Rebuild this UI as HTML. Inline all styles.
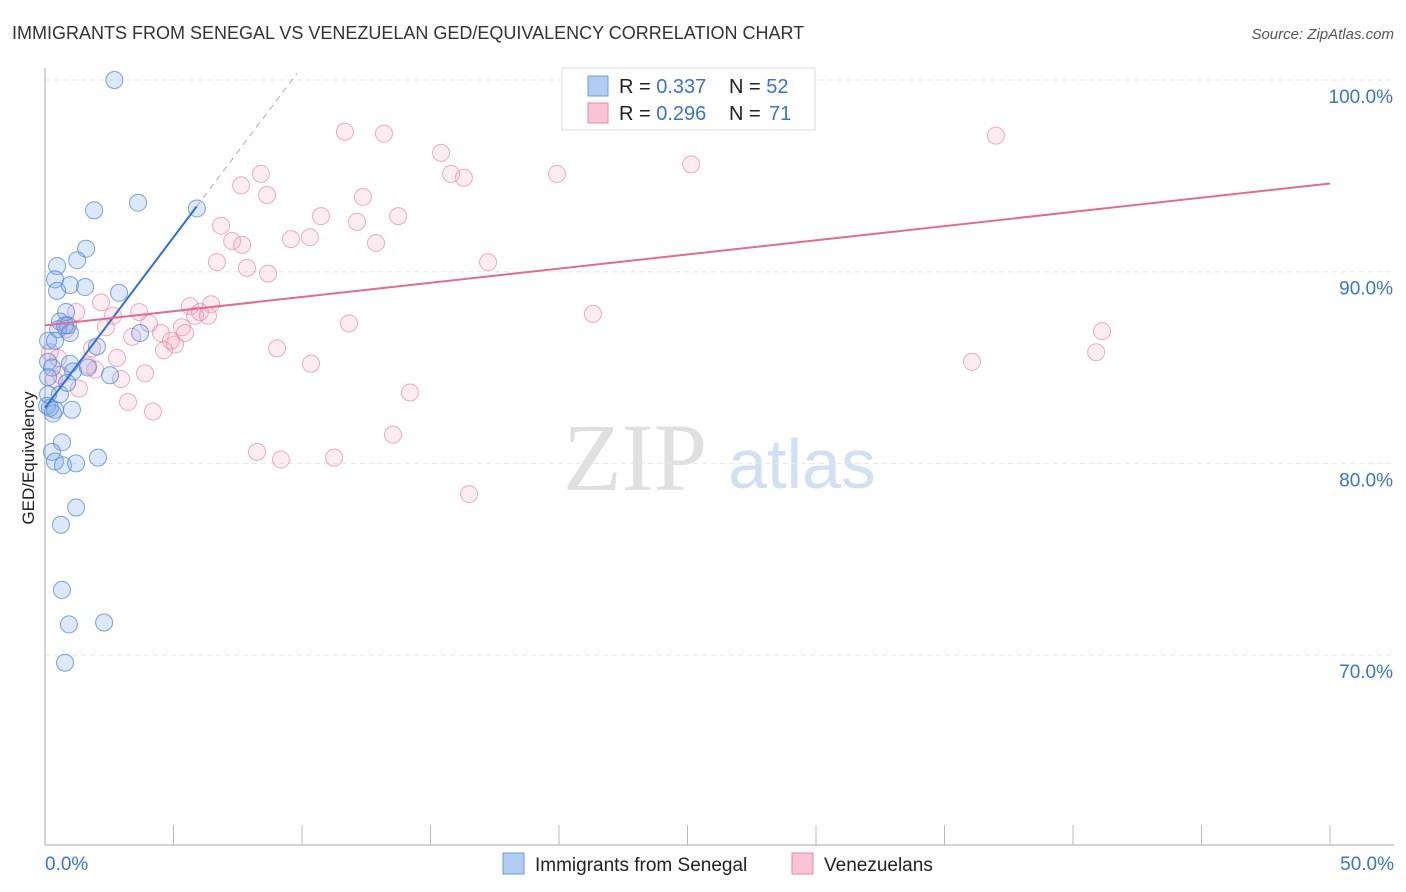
<!DOCTYPE html>
<html><head><meta charset="utf-8"><style>
body{margin:0;background:#fff;font-family:"Liberation Sans",sans-serif;}
svg{display:block}
</style></head><body>
<svg id="chart" width="1406" height="892">
<text x="12" y="39" font-size="18" fill="#333">IMMIGRANTS FROM SENEGAL VS VENEZUELAN GED/EQUIVALENCY CORRELATION CHART</text>
<text x="1394" y="39" font-size="15" fill="#555" font-style="italic" text-anchor="end">Source: ZipAtlas.com</text>
<text x="34" y="458" font-size="17" fill="#222" text-anchor="middle" transform="rotate(-90 34 458)">GED/Equivalency</text>
<g><text x="635" y="490" font-size="96" font-family="Liberation Serif,serif" fill="#e0e0e0" text-anchor="middle">ZIP</text><text x="802" y="488" font-size="70" fill="#d3e0f3" text-anchor="middle">atlas</text></g>
<g id="grid"></g><g id="axes"></g><g id="marks"></g>
<g>
<rect x="562" y="68" width="253" height="62" fill="#fff" stroke="#ddd"/>
<rect x="588" y="76" width="20" height="20" fill="#b3cdf2" stroke="#6a9be0"/>
<rect x="588" y="103" width="20" height="20" fill="#f9c4d4" stroke="#e88aa8"/>
<text x="619" y="93" font-size="20" fill="#222">R = <tspan fill="#3a74d0">0.337</tspan></text>
<text x="729" y="93" font-size="20" fill="#222">N = <tspan fill="#3a74d0">52</tspan></text>
<text x="619" y="120" font-size="20" fill="#222">R = <tspan fill="#3a74d0">0.296</tspan></text>
<text x="729" y="120" font-size="20" fill="#222">N = <tspan fill="#3a74d0" x="769">71</tspan></text>
</g>
<g>
<rect x="503" y="853" width="21" height="21" fill="#b3cdf2" stroke="#6a9be0"/>
<text x="535" y="871" font-size="19" fill="#222">Immigrants from Senegal</text>
<rect x="792" y="853" width="21" height="21" fill="#f9c4d4" stroke="#e88aa8"/>
<text x="824" y="871" font-size="19" fill="#222">Venezuelans</text>
</g>
</svg>
<script>
const blueX=[2.7,3.62,1.91,5.91,1.6,0.47,1.25,0.39,0.47,0.97,1.56,2.88,0.82,0.58,0.89,0.51,0.97,3.7,2.02,0.12,0.97,2.53,1.09,0.27,1.67,0.86,0.12,0.58,0.08,0.39,0.31,1.05,0.66,0.27,0.39,0.7,1.21,2.06,1.21,0.62,0.66,0.93,2.3,0.78,0.19,0.12,0.12,0.78,0.39];
const blueY=[100.0,93.6,93.2,93.3,91.2,90.3,90.6,89.6,89.0,89.3,89.2,88.9,87.9,87.4,87.2,87.0,86.8,86.8,86.1,86.4,85.2,84.6,84.8,85.0,85.0,84.2,84.5,83.6,83.0,82.8,82.6,82.8,81.1,80.6,80.1,79.9,80.0,80.3,77.7,76.8,73.4,71.6,71.7,69.6,82.9,83.6,85.3,87.2,86.4];
const pinkX=[11.67,13.19,15.41,15.8,16.3,19.92,25.14,37.0,8.4,7.63,8.64,12.37,10.74,13.74,12.14,6.85,7.28,7.67,9.57,10.31,12.88,6.69,7.86,8.68,17.24,2.18,5.64,6.46,6.03,5.84,6.34,3.66,2.65,1.21,4.05,2.37,5.33,5.45,11.83,4.51,3.39,4.9,5.06,4.63,1.83,2.8,0.51,9.03,10.35,21.32,41.13,40.9,36.07,3.89,1.95,2.96,0.62,1.32,14.2,3.23,4.2,13.54,8.25,9.18,11.25,16.5,0.19,0.35,0.82,1.67];
const pinkY=[97.3,97.2,96.2,95.1,94.9,95.1,95.6,97.1,95.1,94.5,94.0,93.9,92.9,92.9,92.6,92.4,91.6,91.4,91.7,91.8,91.5,90.5,90.2,89.9,90.5,88.4,88.2,88.3,87.9,87.7,87.7,87.9,87.7,87.9,87.3,87.1,87.1,86.8,87.3,86.8,86.6,86.4,86.2,85.9,86.0,85.5,85.5,86.0,85.2,87.8,86.9,85.8,85.3,84.7,84.9,84.4,84.6,83.9,83.7,83.2,82.7,81.5,80.6,80.2,80.3,78.4,85.8,84.4,87.0,85.1];
const yTicks=[100,90,80,70];
const blueTrend=[[0,82.9],[5.9,93.4]];
const pinkTrend=[[0,87.2],[50,94.6]];
const NS="http://www.w3.org/2000/svg";
const sx=v=>45+v*25.7, sy=v=>80+(100-v)*19.17;
function mk(t,a,p){const e=document.createElementNS(NS,t);for(const k in a)e.setAttribute(k,a[k]);p.appendChild(e);return e;}
const grid=document.getElementById('grid'),axes=document.getElementById('axes'),marks=document.getElementById('marks');
yTicks.forEach(t=>{const l=mk('line',{x1:45,x2:1394,y1:sy(t),y2:sy(t),stroke:'#e6e6e6','stroke-dasharray':'5,4'},grid);


const tx=mk('text',{x:1393,y:sy(t)+23,'font-size':19,fill:'#3a74d0','text-anchor':'end'},axes);tx.textContent=t.toFixed(1)+'%';

});
mk('line',{x1:45,x2:45,y1:68,y2:845,stroke:'#aaa'},axes);
mk('line',{x1:45,x2:1394,y1:845,y2:845,stroke:'#aaa'},axes);
for(let i=1;i<=10;i++)mk('line',{x1:sx(i*5),x2:sx(i*5),y1:825,y2:845,stroke:'#bbb'},axes);
const x0=mk('text',{x:45,y:870,'font-size':19,fill:'#3a74d0'},axes);x0.textContent='0.0%';


const x1=mk('text',{x:1394,y:870,'font-size':19,fill:'#3a74d0','text-anchor':'end'},axes);x1.textContent='50.0%';


function pts(X,Y,fill,stroke,name){X.forEach((x,i)=>{const c=mk('circle',{cx:sx(x),cy:sy(Y[i]),r:8.5,fill:fill,stroke:stroke,'stroke-width':1},marks);

});}
pts(pinkX,pinkY,'rgba(245,160,185,0.2)','rgba(228,130,160,0.65)','venezuelans-point');
pts(blueX,blueY,'rgba(120,165,230,0.25)','rgba(80,135,215,0.75)','senegal-point');
const sl=(blueTrend[1][1]-blueTrend[0][1])/(blueTrend[1][0]-blueTrend[0][0]);
const ext=mk('line',{x1:sx(blueTrend[1][0]),y1:sy(blueTrend[1][1]),x2:sx(9.8),y2:sy(blueTrend[0][1]+sl*9.8),stroke:'#aab',"stroke-dasharray":'6,5'},marks);


const bt=mk('line',{x1:sx(blueTrend[0][0]),y1:sy(blueTrend[0][1]),x2:sx(blueTrend[1][0]),y2:sy(blueTrend[1][1]),stroke:'#2f6fd6','stroke-width':2},marks);


const pt=mk('line',{x1:sx(pinkTrend[0][0]),y1:sy(pinkTrend[0][1]),x2:sx(pinkTrend[1][0]),y2:sy(pinkTrend[1][1]),stroke:'#e36b93','stroke-width':2},marks);


</script>
</body></html>
